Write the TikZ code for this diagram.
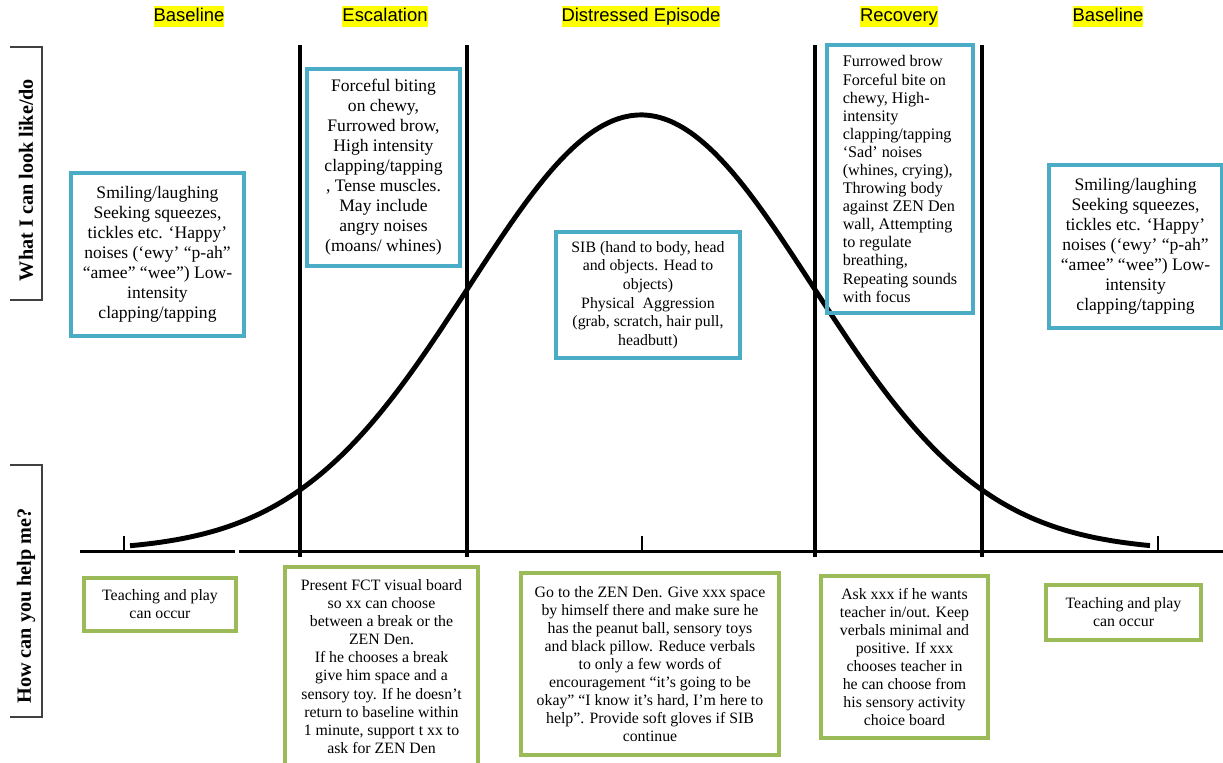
\documentclass[tikz,border=0pt]{standalone}
\usepackage{fontspec}
\setmainfont{Liberation Serif}
\newfontfamily\headfont{Liberation Sans}
\usepackage{tikz}
\usetikzlibrary{positioning}
\definecolor{boxblue}{HTML}{4BACC6}
\definecolor{boxgreen}{HTML}{9BBB59}
\definecolor{hilite}{HTML}{FFFF00}
\tikzset{
  phase/.style={fill=hilite, inner xsep=0pt, inner ysep=0.75pt, text height=8pt, text depth=2.5pt,
                font=\headfont\fontsize{10.5}{12}\selectfont},
  lookbox/.style={draw=boxblue, line width=1.8pt, align=center, inner sep=2pt,
                  font=\fontsize{10}{11.4}\selectfont},
  helpbox/.style={draw=boxgreen, line width=1.8pt, align=center, inner sep=2pt,
                  font=\fontsize{9}{10.3}\selectfont},
  sidelabel/.style={rotate=90, font=\bfseries\fontsize{11.5}{13}\selectfont},
  bracket/.style={draw=black!75, line width=1pt},
}

\begin{document}
\begin{tikzpicture}[x=0.02cm, y=-0.02cm]
  \useasboundingbox (0,0) rectangle (1223,762);

  % phase titles
  \node[phase] (hdbase1) at (189,16.5) {Baseline};
  \node[phase] (hdesc)   at (385,16.5) {Escalation};
  \node[phase] (hddist)  at (641,16.5) {Distressed Episode};
  \node[phase] (hdrec)   at (899,16.5) {Recovery};
  \node[phase] (hdbase2) at (1108,16.5) {Baseline};

  % side labels
  \node[sidelabel] (lookside) at (26,180) {What I can look like/do};
  \draw[bracket] (10,47) -- (42,47) -- (42,300) -- (10,300);
  \node[sidelabel] (helpside) at (26,606) {How can you help me?};
  \draw[bracket] (10,465) -- (42,465) -- (42,717) -- (10,717);

  % axis, ticks and phase borders
  \draw[line width=1.7pt] (80,551) -- (235,551);
  \draw[line width=1.7pt] (239,551) -- (1223,551);
  \foreach \tx in {124,642,1158}
    \draw[line width=1.6pt] (\tx,536) -- (\tx,551);
  \foreach \vx in {300,467,815,982}
    \draw[line width=2pt] (\vx,45) -- (\vx,557);

  % bell curve
  \draw[line width=2.8pt, line join=round] plot[domain=130:1150, samples=150, smooth]
    (\x, {551-436*exp(-((\x-641)/172)*((\x-641)/172)/2)});

  % what I can look like
  \node[lookbox, minimum width=3.46cm, minimum height=3.26cm] (lookbase1) at (157.5,254.5)
    {Smiling/laughing\\ Seeking squeezes,\\ tickles etc. ‘Happy’\\ noises (‘ewy’ “p-ah”\\
     “amee” “wee”) Low-\\ intensity\\ clapping/tapping};
  \node[lookbox, minimum width=3.06cm, minimum height=3.94cm] (lookesc) at (383.5,167.5)
    {Forceful biting\\ on chewy,\\ Furrowed brow,\\ High intensity\\ clapping/tapping\\
     , Tense muscles.\\ May include\\ angry noises\\ (moans/ whines)};
  \node[lookbox, minimum width=3.68cm, minimum height=2.52cm,
        font=\fontsize{9}{10.6}\selectfont] (lookdist) at (648,295)
    {SIB (hand to body, head\\ and objects. Head to\\ objects)\\ Physical\ \ Aggression\\
     (grab, scratch, hair pull,\\ headbutt)};
  \node[lookbox, align=left, minimum width=2.92cm, minimum height=5.36cm,
        font=\fontsize{9.2}{10.3}\selectfont] (lookrec) at (900,179)
    {Furrowed brow\\ Forceful bite on\\ chewy, High-\\ intensity\\ clapping/tapping\\
     ‘Sad’ noises\\ (whines, crying),\\ Throwing body\\ against ZEN Den\\ wall, Attempting\\
     to regulate\\ breathing,\\ Repeating sounds\\ with focus};
  \node[lookbox, minimum width=3.46cm, minimum height=3.26cm] (lookbase2) at (1135.5,246.5)
    {Smiling/laughing\\ Seeking squeezes,\\ tickles etc. ‘Happy’\\ noises (‘ewy’ “p-ah”\\
     “amee” “wee”) Low-\\ intensity\\ clapping/tapping};

  % how can you help me
  \node[helpbox, minimum width=3.04cm, minimum height=1.06cm] (helpbase1) at (160,604.5)
    {Teaching and play\\ can occur};
  \node[helpbox, minimum width=3.86cm, minimum height=3.98cm] (helpesc) at (381.5,666.5)
    {Present FCT visual board\\ so xx can choose\\ between a break or the\\ ZEN Den.\\
     If he chooses a break\\ give him space and a\\ sensory toy. If he doesn’t\\
     return to baseline within\\ 1 minute, support t xx to\\ ask for ZEN Den};
  \node[helpbox, minimum width=5.16cm, minimum height=3.64cm] (helpdist) at (650,664)
    {Go to the ZEN Den. Give xxx space\\ by himself there and make sure he\\
     has the peanut ball, sensory toys\\ and black pillow. Reduce verbals\\
     to only a few words of\\ encouragement “it’s going to be\\
     okay” “I know it’s hard, I’m here to\\ help”. Provide soft gloves if SIB\\ continue};
  \node[helpbox, minimum width=3.34cm, minimum height=3.24cm] (helprec) at (904.5,657)
    {Ask xxx if he wants\\ teacher in/out. Keep\\ verbals minimal and\\ positive. If xxx\\
     chooses teacher in\\ he can choose from\\ his sensory activity\\ choice board};
  \node[helpbox, minimum width=3.1cm, minimum height=1.1cm] (helpbase2) at (1123.5,612.5)
    {Teaching and play\\ can occur};
\end{tikzpicture}
\end{document}
